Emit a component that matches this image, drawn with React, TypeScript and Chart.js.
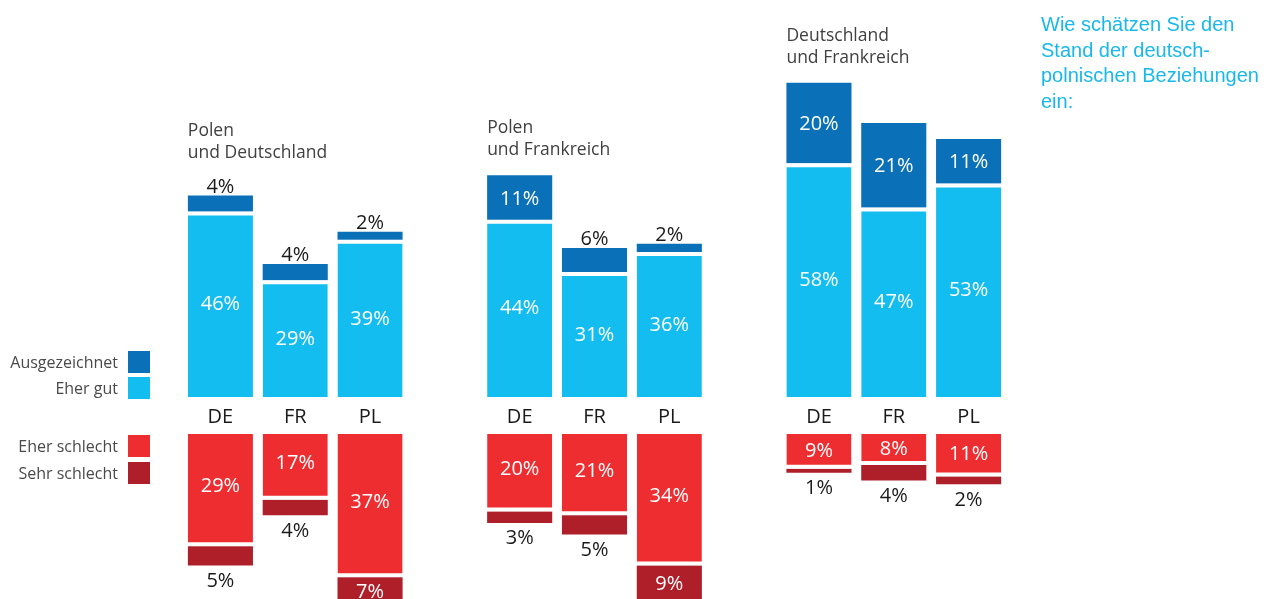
import React, { useEffect, useRef } from 'react';
import { Chart, registerables } from 'chart.js';

Chart.register(...registerables);

// ---- data ----
const groupTitles: string[][] = [
  ['Polen', 'und Deutschland'],
  ['Polen', 'und Frankreich'],
  ['Deutschland', 'und Frankreich'],
];
const countries = ['DE', 'FR', 'PL'];
const seriesNames = ['Ausgezeichnet', 'Eher gut', 'Eher schlecht', 'Sehr schlecht'];
// order per group: DE, FR, PL
const ausgezeichnet = [4, 4, 2, 11, 6, 2, 20, 21, 11];
const eherGut = [46, 29, 39, 44, 31, 36, 58, 47, 53];
const eherSchlecht = [29, 17, 37, 20, 21, 34, 9, 8, 11];
const sehrSchlecht = [5, 4, 7, 3, 5, 9, 1, 4, 2];
const questionLines = ['Wie schätzen Sie den', 'Stand der deutsch-', 'polnischen Beziehungen', 'ein:'];

// ---- style ----
const DARK_BLUE = '#0a71b8';
const LIGHT_BLUE = '#14bdf0';
const RED = '#ee2d31';
const DARK_RED = '#ae1f2a';
const W = 1279;
const H = 599;
const POS_ZERO = 397;
const NEG_ZERO = 434;
const POS_PX = 4.03;
const NEG_PX = 3.87;
const FONT = '"Open Sans", "Noto Sans", sans-serif';
const INSIDE_MIN = 7;

const labels: string[] = [];
groupTitles.forEach((_, g) => {
  countries.forEach((c) => labels.push(c));
  if (g < groupTitles.length - 1) labels.push('');
});

function spread(vals: number[], sign = 1): (number | null)[] {
  const out: (number | null)[] = [];
  vals.forEach((v, i) => {
    if (i > 0 && i % countries.length === 0) out.push(null);
    out.push(sign * v);
  });
  return out;
}

const annotate = {
  id: 'annotate',
  afterDatasetsDraw(chart: any) {
    const c: CanvasRenderingContext2D = chart.ctx;
    const xs = chart.scales.x;
    const yP = chart.scales.yPos;
    const yN = chart.scales.yNeg;
    const cap = 14.3;
    c.save();
    c.textAlign = 'center';
    c.textBaseline = 'alphabetic';
    c.font = `400 20px ${FONT}`;

    chart.data.datasets.forEach((ds: any, di: number) => {
      const meta = chart.getDatasetMeta(di);
      meta.data.forEach((el: any, i: number) => {
        const raw = ds.data[i];
        if (raw == null) return;
        const v = Math.abs(raw);
        const top = Math.min(el.y, el.base);
        const bot = Math.max(el.y, el.base);
        const txt = `${v}%`;
        const shift = v >= 15 ? -3 : 0;
        let ty: number;
        let color = '#ffffff';
        if (di === 0) {
          ty = (top + 4 + bot) / 2 + cap / 2 + shift;
        } else if (di === 1) {
          if (v >= INSIDE_MIN) ty = (top + bot) / 2 + cap / 2;
          else {
            ty = top - 3;
            color = '#1a1a1a';
          }
        } else if (di === 2) {
          ty = (top + bot - 4) / 2 + cap / 2 + shift;
        } else {
          if (v >= INSIDE_MIN) ty = (top + bot) / 2 + cap / 2;
          else {
            ty = bot + 7 + cap;
            color = '#1a1a1a';
          }
        }
        c.fillStyle = color;
        c.fillText(txt, el.x, ty);
      });
    });

    // country labels between the two halves
    const mid = (yP.getPixelForValue(0) + yN.getPixelForValue(0)) / 2;
    c.fillStyle = '#1a1a1a';
    c.font = `400 20px ${FONT}`;
    labels.forEach((l, i) => {
      if (!l) return;
      c.fillText(l, xs.getPixelForValue(i), mid + 7.5);
    });

    // group titles
    const metaTop = chart.getDatasetMeta(1);
    c.textAlign = 'left';
    c.font = `400 17.5px ${FONT}`;
    c.fillStyle = '#404040';
    groupTitles.forEach((lines, g) => {
      const idx = g * (countries.length + 1);
      const el = metaTop.data[idx];
      const v = Math.abs(chart.data.datasets[1].data[idx]);
      let top = Math.min(el.y, el.base);
      if (v < INSIDE_MIN) top -= 3 + cap;
      const base2 = top - 20;
      const left = el.x - el.width / 2;
      c.fillText(lines[1], left, base2);
      c.fillText(lines[0], left, base2 - 22);
    });

    c.restore();
  },
  afterDraw(chart: any) {
    const c: CanvasRenderingContext2D = chart.ctx;
    const yP = chart.scales.yPos;
    const yN = chart.scales.yNeg;
    const p0 = yP.getPixelForValue(0);
    const n0 = yN.getPixelForValue(0);
    const colors = [DARK_BLUE, LIGHT_BLUE, RED, DARK_RED];
    const boxTops = [p0 - 46, p0 - 20, n0 + 1, n0 + 28];
    c.save();
    c.font = `400 16px ${FONT}`;
    c.textAlign = 'right';
    c.textBaseline = 'alphabetic';
    seriesNames.forEach((name, i) => {
      c.fillStyle = colors[i];
      c.fillRect(128, boxTops[i], 22, 22);
      c.fillStyle = '#4a4a4a';
      c.fillText(name, 118, boxTops[i] + 17);
    });
    c.restore();
  },
};

export default function App() {
  const ref = useRef<HTMLCanvasElement>(null);
  useEffect(() => {
    if (!ref.current) return;
    const chart = new Chart(ref.current, {
      type: 'bar',
      data: {
        labels,
        datasets: [
          {
            label: seriesNames[1],
            data: spread(eherGut),
            backgroundColor: LIGHT_BLUE,
            borderColor: '#ffffff',
            borderWidth: { top: 4, bottom: 0, left: 0, right: 0 },
            yAxisID: 'yPos',
          },
          {
            label: seriesNames[0],
            data: spread(ausgezeichnet),
            backgroundColor: DARK_BLUE,
            borderWidth: 0,
            yAxisID: 'yPos',
          },
          {
            label: seriesNames[2],
            data: spread(eherSchlecht, -1),
            backgroundColor: RED,
            borderColor: '#ffffff',
            borderWidth: { top: 0, bottom: 4, left: 0, right: 0 },
            yAxisID: 'yNeg',
          },
          {
            label: seriesNames[3],
            data: spread(sehrSchlecht, -1),
            backgroundColor: DARK_RED,
            borderWidth: 0,
            yAxisID: 'yNeg',
          },
        ] as any,
      },
      options: {
        responsive: false,
        animation: false,
        devicePixelRatio: 1,
        layout: { padding: { left: 183, right: 273, top: 0, bottom: 0 } },
        plugins: { legend: { display: false }, tooltip: { enabled: false }, title: { display: false } },
        datasets: { bar: { categoryPercentage: 1, barPercentage: 0.87 } },
        scales: {
          x: { type: 'category', display: false, stacked: true, offset: true },
          yPos: {
            type: 'linear',
            display: false,
            stacked: true,
            min: -(H - POS_ZERO) / POS_PX,
            max: POS_ZERO / POS_PX,
          },
          yNeg: {
            type: 'linear',
            display: false,
            stacked: true,
            min: -(H - NEG_ZERO) / NEG_PX,
            max: NEG_ZERO / NEG_PX,
          },
        },
      } as any,
      plugins: [annotate],
    });
    return () => chart.destroy();
  }, []);

  return (
    <div style={{ position: 'absolute', left: 0, top: 0, width: W, height: H, background: '#ffffff', overflow: 'hidden' }}>
      <canvas ref={ref} width={W} height={H} style={{ display: 'block', width: W, height: H }} />
      <div
        style={{
          position: 'absolute',
          left: 1041,
          top: 12,
          font: '20px "Liberation Sans", Arial, sans-serif',
          lineHeight: '25.7px',
          color: '#1ab8ea',
          whiteSpace: 'nowrap',
        }}
      >
        {questionLines.map((l, i) => (
          <div key={i}>{l}</div>
        ))}
      </div>
    </div>
  );
}
